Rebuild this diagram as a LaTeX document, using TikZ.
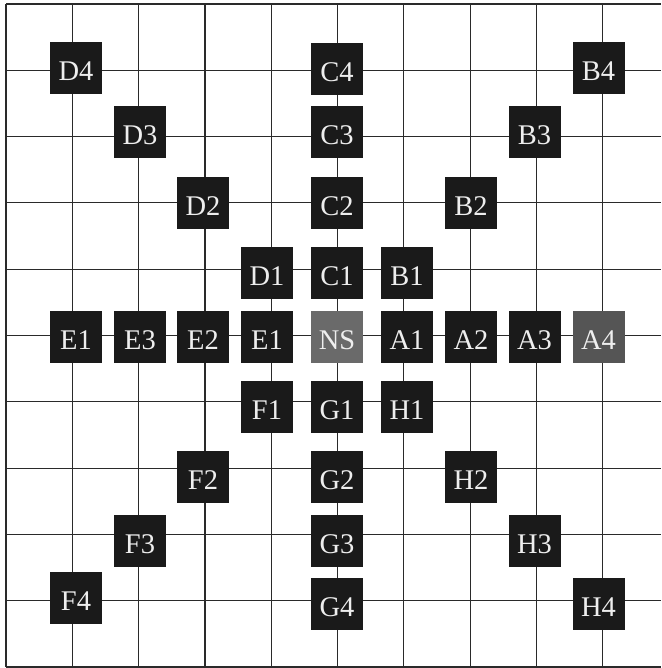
\documentclass[tikz,border=0pt]{standalone}
\usepackage{fontspec}
\setmainfont{Liberation Serif}
\definecolor{boxblack}{HTML}{1A1A1A}
\definecolor{boxgray}{HTML}{6A6A6A}
\definecolor{boxdark}{HTML}{555555}
\definecolor{gridline}{HTML}{2A2A2A}
\definecolor{labeltext}{HTML}{EEEEEE}
\tikzset{
  cell/.style={draw=none, fill=boxblack, minimum width=52pt, minimum height=52pt,
    inner sep=0pt, text=labeltext, text height=25pt, text depth=0pt,
    font=\fontsize{28.5}{28.5}\selectfont},
  cellgray/.style={cell, fill=boxgray},
  celldark/.style={cell, fill=boxdark},
  gridrule/.style={draw=gridline, line width=1.2pt}
}
\begin{document}
\begin{tikzpicture}[x=1pt, y=-1pt]
  \useasboundingbox (0,0) rectangle (661,668);
  \fill[white] (0,0) rectangle (661,668);
  % grid
  \foreach \k in {0,...,9} {
    \draw[gridrule] ({6+66.3*\k},4) -- ({6+66.3*\k},667);
  }
  \foreach \k in {0,...,10} {
    \draw[gridrule] (6,{4+66.3*\k}) -- (661,{4+66.3*\k});
  }
  % row 4 (top)
  \node[cell] (D4) at (76,68.5) {D4};
  \node[cell] (C4) at (337,69) {C4};
  \node[cell] (B4) at (598.5,68.5) {B4};
  % row 3
  \node[cell] (D3) at (140,132) {D3};
  \node[cell] (C3) at (337,132) {C3};
  \node[cell] (B3) at (534.5,132) {B3};
  % row 2
  \node[cell] (D2) at (203,203) {D2};
  \node[cell] (C2) at (337,203) {C2};
  \node[cell] (B2) at (471,203) {B2};
  % row 1
  \node[cell] (D1) at (267,272.5) {D1};
  \node[cell] (C1) at (337,272.5) {C1};
  \node[cell] (B1) at (407,272.5) {B1};
  % middle row
  \node[cell] (E1a) at (76,336.5) {E1};
  \node[cell] (E3) at (140,336.5) {E3};
  \node[cell] (E2) at (203,336.5) {E2};
  \node[cell] (E1b) at (267,336.5) {E1};
  \node[cellgray] (NS) at (337,336.5) {NS};
  \node[cell] (A1) at (407,336.5) {A1};
  \node[cell] (A2) at (471,336.5) {A2};
  \node[cell] (A3) at (534.5,336.5) {A3};
  \node[celldark] (A4) at (598.5,336.5) {A4};
  % lower rows
  \node[cell] (F1) at (267,406.5) {F1};
  \node[cell] (G1) at (337,406.5) {G1};
  \node[cell] (H1) at (407,406.5) {H1};
  \node[cell] (F2) at (203,476.5) {F2};
  \node[cell] (G2) at (337,476.5) {G2};
  \node[cell] (H2) at (471,476.5) {H2};
  \node[cell] (F3) at (140,540.5) {F3};
  \node[cell] (G3) at (337,540.5) {G3};
  \node[cell] (H3) at (534.5,540.5) {H3};
  \node[cell] (F4) at (76,598) {F4};
  \node[cell] (G4) at (337,603.5) {G4};
  \node[cell] (H4) at (598.5,604) {H4};
\end{tikzpicture}
\end{document}
